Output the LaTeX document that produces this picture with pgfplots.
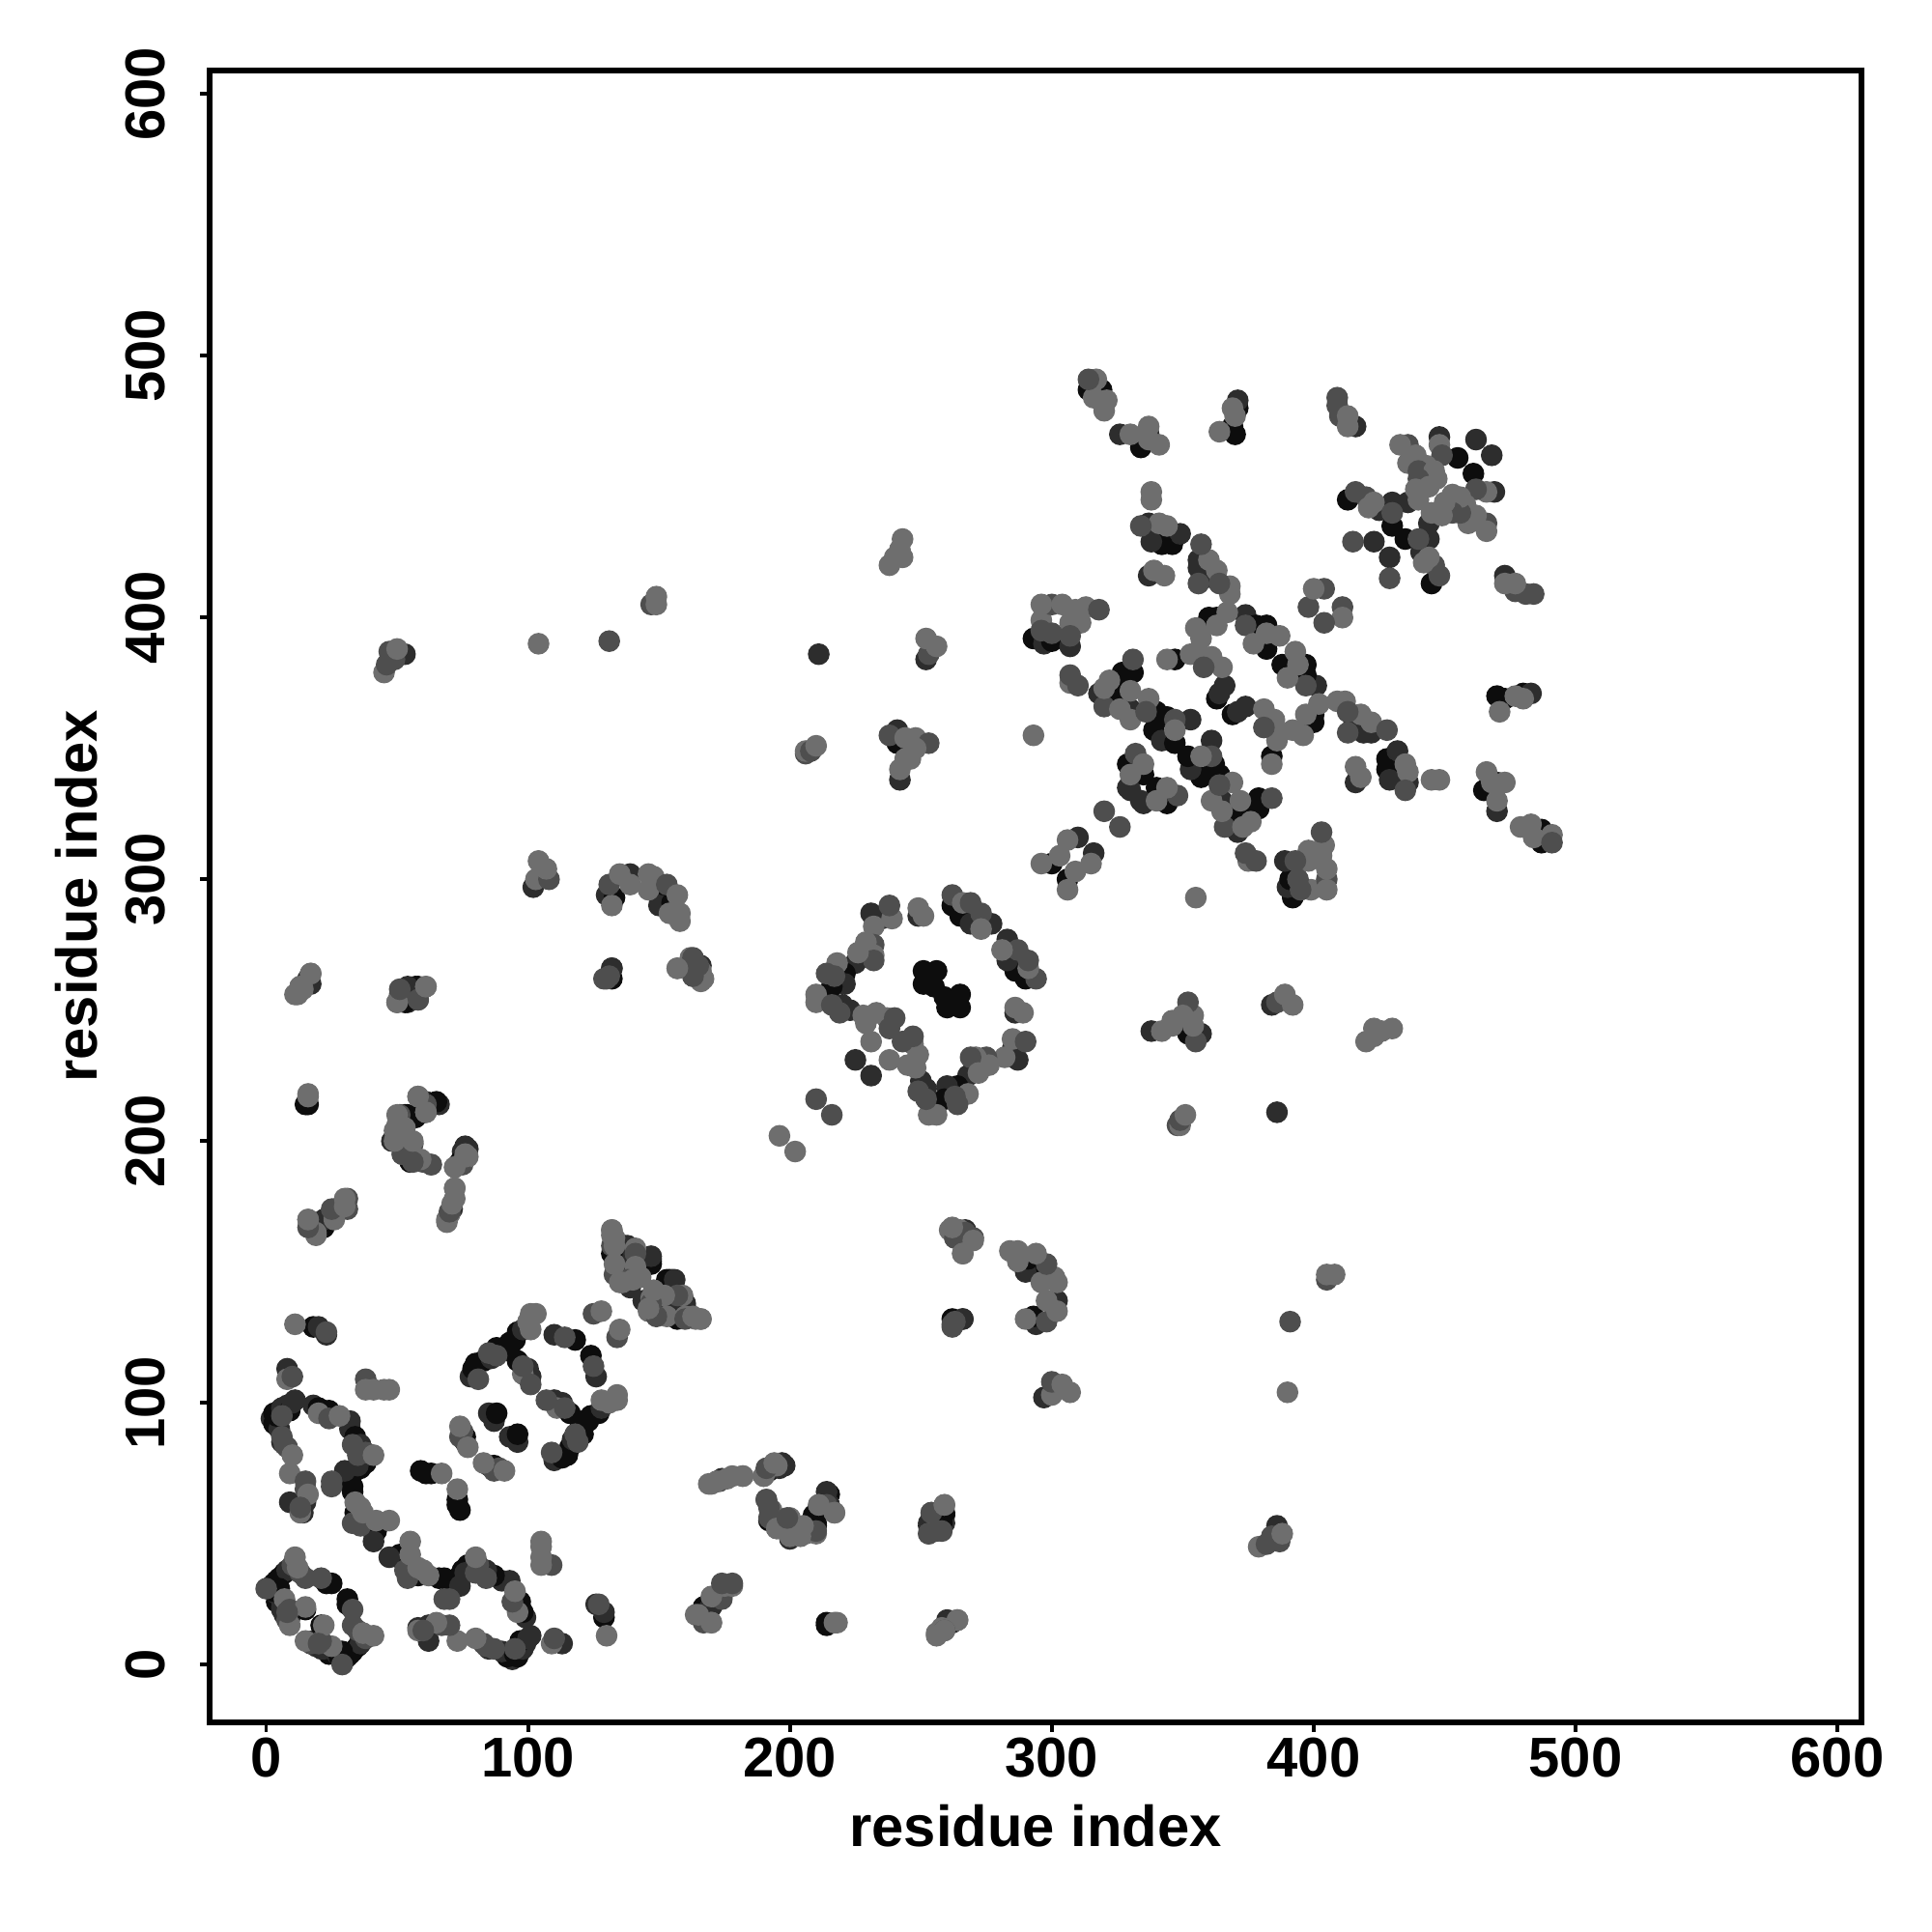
\documentclass[border=0pt]{standalone}
\usepackage{fontspec}
\setmainfont{Liberation Sans}
\usepackage{pgfplots}
\usepackage{pgfplotstable}
\pgfplotsset{compat=1.18}
% columns: residue a, residue b, shade class (0 black ... 3 grey)
\pgfplotstableread[row sep=\\]{
a b c \\
18 129 0 \\ 20 129 1 \\ 23 126 1 \\ 8 113 1 \\
2 94 1 \\ 3 92 0 \\ 4 92 0 \\ 3 96 0 \\ 5 90 1 \\ 4 95 0 \\ 5 97 0 \\ 6 98 1 \\ 8 99 1 \\ 9 97 0 \\ 10 100 1 \\ 11 101 1 \\
6 85 1 \\ 15 62 1 \\ 9 62 1 \\ 14 58 1 \\
18 99 1 \\ 20 98 0 \\ 22 97 0 \\ 24 97 0 \\ 32 93 1 \\ 32 90 1 \\ 34 87 0 \\ 36 84 1 \\ 37 79 1 \\ 38 77 0 \\ 36 75 0 \\ 34 74 0 \\ 32 72 0 \\ 30 71 0 \\ 33 68 0 \\ 33 66 0 \\ 30 74 1 \\ 35 76 1 \\
34 58 0 \\ 40 52 1 \\ 42 51 0 \\ 41 47 1 \\
2 30 0 \\ 3 31 0 \\ 4 32 0 \\ 5 33 0 \\ 7 35 0 \\ 8 36 1 \\ 23 31 0 \\ 25 31 0 \\
4 24 0 \\ 6 21 1 \\ 7 19 1 \\ 9 18 1 \\ 15 21 0 \\ 6 22 1 \\ 4 27 1 \\ 3 28 0 \\ 5 29 0 \\
59 74 0 \\ 61 73 0 \\ 63 73 0 \\ 76 85 1 \\ 76 87 0 \\ 85 96 1 \\ 87 93 1 \\ 88 96 0 \\
78 110 1 \\ 79 113 0 \\ 80 115 0 \\ 83 116 0 \\ 86 117 1 \\ 88 121 0 \\ 91 120 0 \\ 93 123 0 \\ 93 121 0 \\ 95 124 0 \\ 96 127 0 \\ 98 128 1 \\
96 116 0 \\ 100 113 1 \\ 101 110 1 \\ 110 126 1 \\ 118 124 0 \\
134 151 0 \\ 135 154 0 \\ 136 152 1 \\ 134 158 1 \\ 136 159 0 \\ 135 155 1 \\ 138 160 1 \\ 140 158 1 \\ 147 154 0 \\ 147 155 1 \\ 140 150 1 \\
147 153 0 \\ 147 156 1 \\ 152 138 1 \\ 160 137 1 \\ 157 132 0 \\ 144 139 1 \\
266 132 1 \\ 192 74 0 \\ 198 76 1 \\
195 56 0 \\ 210 54 0 \\ 210 58 0 \\ 215 65 0 \\
253 53 0 \\ 259 57 0 \\ 259 54 1 \\
167 22 0 \\ 170 22 1 \\ 214 15 0 \\ 262 16 1 \\
211 386 1 \\ 252 384 1 \\ 241 352 0 \\ 241 357 1 \\ 242 338 1 \\
102 297 1 \\ 130 294 1 \\ 133 293 0 \\ 139 302 1 \\
150 294 0 \\ 150 290 1 \\ 155 291 0 \\
17 260 1 \\ 54 258 0 \\ 54 253 1 \\ 58 254 1 \\ 58 259 0 \\
132 262 0 \\ 132 266 1 \\ 163 263 1 \\ 166 267 1 \\ 16 214 0 \\
53 210 0 \\ 57 209 0 \\ 48 200 1 \\ 55 192 0 \\ 61 215 1 \\ 66 214 1 \\
77 197 1 \\ 75 196 1 \\ 71 174 1 \\ 19 166 0 \\ 21 169 1 \\ 26 174 1 \\ 53 386 1 \\
235 285 1 \\ 231 287 1 \\ 225 268 1 \\ 221 264 0 \\ 221 260 1 \\ 216 259 0 \\ 220 252 1 \\ 223 250 1 \\ 225 231 1 \\
251 260 0 \\ 255 259 0 \\ 251 265 0 \\ 256 265 0 \\ 249 286 1 \\
262 290 0 \\ 265 286 0 \\ 269 283 1 \\ 277 283 1 \\
293 392 0 \\ 297 390 1 \\ 300 391 0 \\ 307 389 1 \\
318 371 1 \\ 322 371 0 \\ 327 379 0 \\ 331 379 0 \\ 326 376 0 \\ 326 371 0 \\ 330 365 1 \\
340 364 0 \\ 344 362 0 \\ 353 361 1 \\ 339 357 0 \\ 342 353 1 \\ 347 352 0 \\
347 384 0 \\ 366 374 1 \\ 363 369 0 \\ 364 371 1 \\
360 400 0 \\ 363 400 0 \\ 374 401 1 \\ 378 397 0 \\ 382 397 0 \\ 382 388 0 \\
329 344 0 \\ 335 340 0 \\ 330 334 1 \\ 335 329 1 \\
300 306 0 \\ 310 316 1 \\
415 362 1 \\ 419 356 1 \\ 422 356 1 \\ 416 337 1 \\
428 346 0 \\ 432 349 1 \\ 428 342 0 \\ 429 338 1 \\ 436 337 1 \\
470 370 0 \\ 473 369 0 \\ 480 371 0 \\ 483 371 1 \\
465 334 0 \\ 470 337 1 \\ 470 326 1 \\ 487 314 0 \\ 487 319 0 \\
416 473 1 \\ 448 469 1 \\ 455 461 0 \\ 462 468 1 \\ 436 444 1 \\
413 445 0 \\ 430 444 1 \\ 425 441 1 \\ 430 435 0 \\ 423 429 1 \\
}\darkpts
\pgfplotstableread[row sep=\\]{
a b c \\
11 130 3 \\ 23 127 2 \\ 8 109 3 \\ 10 110 2 \\
38 109 2 \\ 38 105 3 \\ 41 105 3 \\ 45 105 3 \\ 47 105 3 \\
6 95 2 \\ 6 87 2 \\ 7 84 2 \\ 8 83 2 \\ 10 80 3 \\ 9 73 3 \\ 15 70 2 \\ 15 67 2 \\ 16 65 3 \\ 13 58 3 \\ 13 60 2 \\
20 96 3 \\ 24 94 2 \\ 28 95 3 \\ 33 84 2 \\ 25 70 2 \\ 25 68 2 \\ 35 80 2 \\ 38 81 2 \\ 41 80 3 \\
33 54 2 \\ 36 53 2 \\ 34 62 3 \\ 36 60 3 \\ 37 58 3 \\ 42 55 3 \\ 47 55 3 \\
0 29 2 \\ 10 38 2 \\ 13 35 2 \\ 15 33 2 \\ 12 37 3 \\ 11 41 3 \\ 21 33 2 \\
7 25 3 \\ 9 21 2 \\ 8 17 2 \\ 9 15 3 \\ 15 22 3 \\ 8 20 2 \\
67 73 3 \\ 74 87 2 \\ 75 89 2 \\ 74 91 3 \\ 77 83 3 \\
81 109 2 \\ 85 119 2 \\ 88 118 2 \\ 101 128 3 \\ 100 131 3 \\ 101 134 3 \\ 103 134 3 \\
98 111 3 \\ 98 114 2 \\ 101 107 2 \\ 114 125 2 \\ 125 134 2 \\ 128 135 3 \\
133 149 2 \\ 132 160 2 \\ 132 166 3 \\ 133 163 3 \\ 141 159 3 \\ 141 157 2 \\ 141 152 3 \\ 141 148 3 \\ 138 147 2 \\ 136 146 3 \\ 143 148 3 \\
153 133 3 \\ 160 133 3 \\ 166 132 3 \\ 164 132 3 \\ 147 140 3 \\ 146 135 3 \\
261 166 3 \\ 265 166 3 \\ 263 163 2 \\ 267 165 2 \\ 270 163 2 \\ 266 157 3 \\ 262 130 2 \\ 263 131 2 \\
170 69 3 \\ 173 70 2 \\ 176 71 3 \\ 182 72 3 \\ 191 74 2 \\ 190 72 3 \\ 194 76 3 \\ 195 76 3 \\
191 63 2 \\ 193 59 3 \\ 192 56 2 \\ 195 52 2 \\ 200 56 3 \\ 200 49 3 \\ 202 50 3 \\ 206 50 3 \\ 210 50 3 \\ 214 61 2 \\ 211 61 3 \\ 217 58 3 \\
254 58 2 \\ 253 50 3 \\ 258 51 2 \\ 259 61 3 \\
164 19 3 \\ 171 26 3 \\ 174 25 2 \\ 175 30 3 \\ 178 30 3 \\ 167 16 2 \\ 170 16 3 \\
218 16 3 \\ 256 12 3 \\ 258 14 3 \\ 264 17 3 \\
147 405 2 \\ 149 405 3 \\ 149 408 3 \\ 104 390 3 \\ 131 391 2 \\ 253 386 2 \\ 252 392 3 \\ 256 389 3 \\
206 348 2 \\ 206 349 3 \\ 208 349 2 \\ 210 351 3 \\ 238 355 2 \\ 244 354 3 \\ 248 354 3 \\ 253 352 2 \\ 248 350 3 \\
242 342 3 \\ 244 346 3 \\ 246 346 3 \\ 293 355 3 \\
103 300 3 \\ 108 300 2 \\ 104 307 3 \\ 107 304 3 \\
132 290 3 \\ 131 298 2 \\ 135 302 3 \\ 139 298 3 \\
146 296 3 \\ 146 302 3 \\ 148 301 3 \\ 153 298 2 \\ 154 287 3 \\ 157 294 3 \\ 158 287 3 \\ 158 284 3 \\
17 264 3 \\ 13 259 2 \\ 13 259 3 \\ 11 256 3 \\
51 256 2 \\ 50 253 2 \\ 61 259 3 \\
129 262 2 \\ 157 266 3 \\ 162 270 3 \\ 167 262 3 \\ 16 217 3 \\
51 210 2 \\ 49 204 3 \\ 53 205 3 \\ 52 195 3 \\ 56 199 2 \\ 60 192 2 \\ 63 191 2 \\ 58 217 3 \\ 61 211 3 \\
72 190 3 \\ 75 191 2 \\ 77 194 3 \\
69 169 3 \\ 70 172 3 \\ 72 178 3 \\ 72 182 3 \\
19 165 3 \\ 16 170 3 \\ 26 170 3 \\ 31 174 2 \\ 31 178 2 \\
45 379 3 \\ 46 382 2 \\ 49 384 2 \\ 47 387 2 \\ 50 388 3 \\
238 420 3 \\ 240 423 3 \\ 243 423 3 \\ 242 426 3 \\ 243 430 3 \\
239 285 3 \\ 238 290 2 \\ 232 282 3 \\ 232 275 2 \\ 229 276 3 \\ 232 271 3 \\ 232 269 2 \\ 226 272 3 \\ 218 268 3 \\ 214 264 2 \\ 217 263 2 \\ 210 256 3 \\ 210 253 3 \\ 216 252 2 \\ 219 249 2 \\ 228 248 3 \\ 229 245 3 \\ 233 249 3 \\ 237 247 3 \\ 240 247 2 \\ 238 243 2 \\
231 238 3 \\ 210 216 2 \\ 196 202 3 \\
249 289 3 \\ 251 286 3 \\
262 294 2 \\ 266 291 3 \\ 269 291 2 \\ 273 287 2 \\ 273 281 3 \\
296 399 3 \\ 300 405 2 \\ 296 405 3 \\ 304 405 3 \\ 309 403 3 \\ 313 404 3 \\ 318 403 2 \\ 307 398 3 \\ 311 398 3 \\ 296 395 2 \\ 300 394 2 \\ 307 393 2 \\
307 375 3 \\ 307 378 2 \\ 310 374 2 \\
320 366 2 \\ 320 373 3 \\ 322 376 3 \\ 331 384 2 \\ 330 372 3 \\ 326 365 3 \\ 330 361 3 \\
337 369 3 \\ 336 364 2 \\ 347 361 2 \\ 347 357 3 \\
344 384 3 \\ 353 386 3 \\ 358 385 3 \\ 361 385 3 \\ 365 381 3 \\ 358 381 2 \\
355 396 3 \\ 357 392 3 \\ 367 402 3 \\ 363 397 3 \\
374 397 2 \\ 382 394 3 \\ 387 393 3 \\ 377 390 3 \\
398 404 2 \\ 411 404 2 \\ 411 400 3 \\
332 348 2 \\ 335 344 3 \\ 330 340 3 \\
296 306 3 \\ 303 309 3 \\ 306 315 3 \\ 320 326 2 \\
412 368 3 \\ 409 368 3 \\ 418 363 3 \\ 422 360 3 \\ 428 357 2 \\ 413 356 2 \\ 413 364 2 \\
416 343 3 \\ 418 339 3 \\
435 344 3 \\ 436 341 3 \\ 435 334 2 \\ 445 338 3 \\ 448 338 3 \\
471 364 3 \\ 477 370 3 \\ 480 369 3 \\
466 341 3 \\ 468 337 3 \\ 473 337 3 \\ 470 330 3 \\
479 320 3 \\ 483 321 3 \\ 484 316 3 \\ 491 317 3 \\ 491 314 2 \\
409 484 2 \\ 409 481 2 \\ 410 477 2 \\ 413 477 3 \\ 413 473 3 \\
436 466 2 \\ 433 466 3 \\ 448 466 3 \\ 439 462 3 \\ 449 462 2 \\ 436 459 3 \\ 443 458 3 \\ 440 456 2 \\ 446 456 3 \\ 447 453 3 \\ 440 453 2 \\ 444 450 3 \\ 439 449 3 \\ 440 445 3 \\
416 448 2 \\ 420 446 2 \\ 423 444 3 \\ 421 442 3 \\ 430 440 2 \\ 415 429 2 \\
}\lightpts
\begin{document}
\begin{tikzpicture}
\path[use as bounding box] (0,0) rectangle (20cm,20cm);
\begin{axis}[
  at={(2.17cm,2.17cm)}, anchor=south west,
  scale only axis, width=17.1cm, height=17.1cm,
  xmin=-21.6, xmax=609.2, ymin=-22.1, ymax=609,
  axis line style={line width=0.62mm, black},
  axis on top,
  xtick={0,100,...,600}, ytick={0,100,...,600},
  tick style={line width=0.38mm, black},
  tick align=outside, major tick length=1mm,
  xtick pos=bottom, ytick pos=left,
  tick label style={/pgf/number format/assume math mode=true, font=\fontsize{16.5}{18}\bfseries, inner sep=0pt},
  xticklabel shift=0.5mm,
  yticklabel shift=3.5mm,
  yticklabel style={rotate=90, anchor=south},
  xticklabel style={anchor=north},
  label style={font=\fontsize{17}{19}\bfseries, inner sep=0pt},
  xlabel={residue index}, ylabel={residue index},
  every axis x label/.append style={at={(axis description cs:0.5,-0.0625)}, anchor=center},
  every axis y label/.append style={at={(axis description cs:-0.0807,0.5)}, anchor=center, rotate=0},
  colormap={shades}{gray(0cm)=(0.05); gray(1cm)=(0.43)},
  point meta min=0, point meta max=3,
]
\addplot[only marks, mark=*, mark size=3pt, scatter, point meta=explicit,
  scatter/use mapped color={draw=mapped color, fill=mapped color}]
  table[x index=0, y index=1, meta index=2] {\darkpts};
\addplot[only marks, mark=*, mark size=3pt, scatter, point meta=explicit,
  scatter/use mapped color={draw=mapped color, fill=mapped color}]
  table[x index=1, y index=0, meta index=2] {\darkpts};
\addplot[only marks, mark=*, mark size=3pt, scatter, point meta=explicit,
  scatter/use mapped color={draw=mapped color, fill=mapped color}]
  table[x index=0, y index=1, meta index=2] {\lightpts};
\addplot[only marks, mark=*, mark size=3pt, scatter, point meta=explicit,
  scatter/use mapped color={draw=mapped color, fill=mapped color}]
  table[x index=1, y index=0, meta index=2] {\lightpts};
\end{axis}
\end{tikzpicture}
\end{document}
